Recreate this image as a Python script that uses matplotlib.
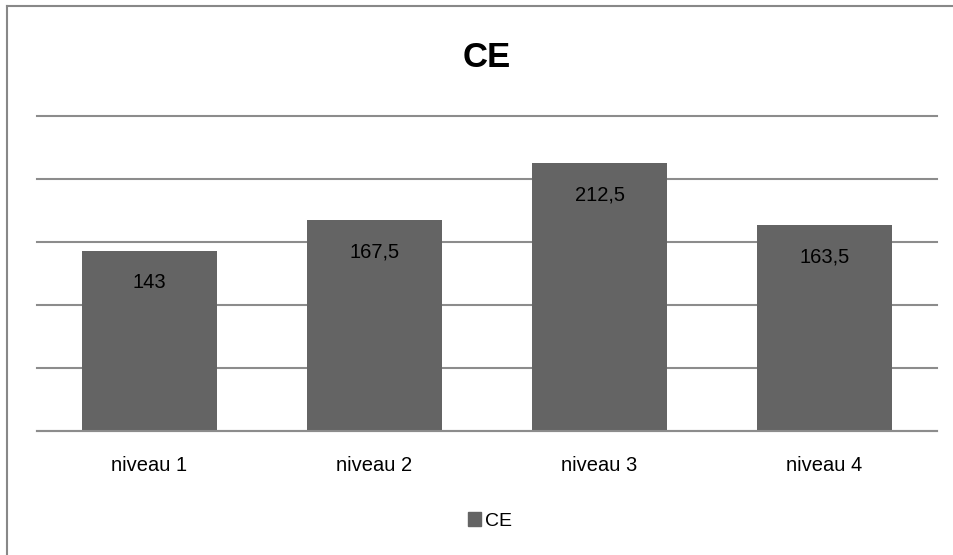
import matplotlib.pyplot as plt
from matplotlib.patches import Patch
from matplotlib.lines import Line2D

categories = ["niveau 1", "niveau 2", "niveau 3", "niveau 4"]
values = [143, 167.5, 212.5, 163.5]
value_labels = ["143", "167,5", "212,5", "163,5"]

bar_color = "#646464"
grid_color = "#8c8c8c"

plt.rcParams['font.family'] = ['Liberation Sans', 'DejaVu Sans']

fig = plt.figure(figsize=(9.54, 5.55), dpi=100)
ax = fig.add_axes([37 / 954, (555 - 431) / 555, 900 / 954, (431 - 116) / 555])

x = range(len(categories))
bars = ax.bar(x, values, width=0.6, color=bar_color, zorder=2)

for b, lab in zip(bars, value_labels):
    ax.annotate(lab, (b.get_x() + b.get_width() / 2, b.get_height()),
                xytext=(0, -23), textcoords="offset points",
                ha="center", va="center", fontsize=14.5, color="black", zorder=3)

ax.set_xlim(-0.5, len(categories) - 0.5)
ax.set_ylim(0, 250)
ax.set_yticks([0, 50, 100, 150, 200, 250])
ax.yaxis.grid(True, color=grid_color, linewidth=1.5, zorder=1)
for gl in ax.get_ygridlines():
    gl.set_clip_on(False)
ax.set_yticklabels([])
ax.tick_params(axis="y", length=0)
ax.tick_params(axis="x", length=0, pad=18, labelsize=14.5)
ax.set_xticks(list(x))
ax.set_xticklabels(categories)
for side in ["top", "right", "left"]:
    ax.spines[side].set_visible(False)
ax.spines["bottom"].set_color(grid_color)
ax.spines["bottom"].set_linewidth(1.5)

fig.text(487 / 954, 1 - 57 / 555, "CE", ha="center", va="center",
         fontsize=25, fontweight="bold")

fig.legend(handles=[Patch(color=bar_color, label="CE")], loc="center",
           bbox_to_anchor=(490 / 954, 1 - 521 / 555), frameon=False,
           fontsize=14, handlelength=0.7, handleheight=0.7, handletextpad=0.2)

# chart border (left and top only visible)
fig.add_artist(Line2D([7 / 954, 7 / 954], [0, 1 - 6 / 555], color="#888888", linewidth=1.5))
fig.add_artist(Line2D([7 / 954, 1], [1 - 6 / 555, 1 - 6 / 555], color="#888888", linewidth=1.5))

fig.savefig("out.png", dpi=100, facecolor="white")
